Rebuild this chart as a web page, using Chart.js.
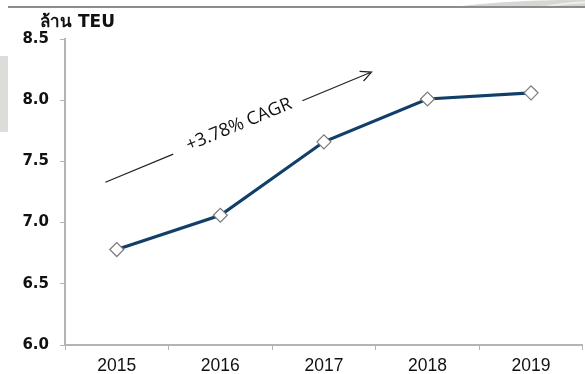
<!DOCTYPE html>
<html>
<head>
<meta charset="utf-8">
<script src="https://cdn.jsdelivr.net/npm/chart.js@4.4.1/dist/chart.umd.min.js"></script>
<style>
  html, body { margin: 0; padding: 0; background: #ffffff; overflow: hidden; }
  #wrap { position: relative; width: 585px; height: 374px; overflow: hidden; }
</style>
</head>
<body>
<div id="wrap"><canvas id="c" width="591" height="374"></canvas></div>
<script>
// Container throughput, million TEU
const years = ['2015', '2016', '2017', '2018', '2019'];
const throughput = [6.78, 7.06, 7.66, 8.01, 8.06];
const yTicks = [6.0, 6.5, 7.0, 7.5, 8.0, 8.5];
const unitLabel = 'ล้าน TEU';
const cagrLabel = '+3.78% CAGR';
// Trend arrow endpoints in data space: [category index, value]
const arrowFrom = [-0.11, 7.33];
const arrowTo = [2.46, 8.23];

const AXIS_GREY = '#b4b4b4';

const decor = {
  id: 'decor',
  beforeDraw(chart) {
    const ctx = chart.ctx;
    ctx.save();
    ctx.fillStyle = '#ffffff';
    ctx.fillRect(0, 0, chart.width, chart.height);
    // page header swoosh, top right
    ctx.fillStyle = '#d6d6d2';
    ctx.beginPath();
    ctx.moveTo(452, 7);
    ctx.quadraticCurveTo(500, 1, 560, 0);
    ctx.lineTo(591, 0);
    ctx.lineTo(591, 7);
    ctx.closePath();
    ctx.fill();
    ctx.fillStyle = '#eeeeec';
    ctx.beginPath();
    ctx.moveTo(540, 7);
    ctx.quadraticCurveTo(560, 2, 591, 1);
    ctx.lineTo(591, 3);
    ctx.quadraticCurveTo(565, 4, 548, 7);
    ctx.closePath();
    ctx.fill();
    // left page tab
    ctx.fillStyle = '#dcdcd8';
    ctx.fillRect(0, 56, 8, 76);
    // header rule
    ctx.strokeStyle = '#8c8c8c';
    ctx.lineWidth = 2;
    ctx.beginPath();
    ctx.moveTo(8, 7);
    ctx.lineTo(591, 7);
    ctx.stroke();
    ctx.restore();
  },
  afterDraw(chart) {
    const ctx = chart.ctx;
    const xs = chart.scales.x, ys = chart.scales.y;
    ctx.save();
    // unit label
    ctx.fillStyle = '#111111';
    ctx.font = 'bold 17px "DejaVu Sans", "Noto Sans", sans-serif';
    ctx.textBaseline = 'alphabetic';
    ctx.textAlign = 'left';
    ctx.fillText(unitLabel, 40, 27);

    // CAGR trend arrow
    const x0 = xs.getPixelForValue(arrowFrom[0]);
    const y0 = ys.getPixelForValue(arrowFrom[1]);
    const x1 = xs.getPixelForValue(arrowTo[0]);
    const y1 = ys.getPixelForValue(arrowTo[1]);
    const ang = Math.atan2(y1 - y0, x1 - x0);
    const gapA = 0.255, gapB = 0.74;
    ctx.strokeStyle = '#222222';
    ctx.lineWidth = 1.2;
    ctx.beginPath();
    ctx.moveTo(x0, y0);
    ctx.lineTo(x0 + (x1 - x0) * gapA, y0 + (y1 - y0) * gapA);
    ctx.moveTo(x0 + (x1 - x0) * gapB, y0 + (y1 - y0) * gapB);
    ctx.lineTo(x1, y1);
    // arrow head
    const h = 12;
    ctx.moveTo(x1 - h * Math.cos(ang - 0.45), y1 - h * Math.sin(ang - 0.45));
    ctx.lineTo(x1, y1);
    ctx.lineTo(x1 - h * Math.cos(ang + 0.45), y1 - h * Math.sin(ang + 0.45));
    ctx.stroke();

    // label along the arrow
    const mx = x0 + (x1 - x0) * 0.505;
    const my = y0 + (y1 - y0) * 0.505;
    ctx.translate(mx, my);
    ctx.rotate(ang);
    ctx.fillStyle = '#111111';
    ctx.font = '18px "Open Sans", "Noto Sans", sans-serif';
    ctx.textAlign = 'center';
    ctx.textBaseline = 'middle';
    ctx.fillText(cagrLabel, 0, -2);
    ctx.restore();
  }
};

new Chart(document.getElementById('c'), {
  type: 'line',
  data: {
    labels: years,
    datasets: [{
      data: throughput,
      borderColor: '#123f69',
      borderWidth: 3.2,
      tension: 0,
      pointStyle: 'rectRot',
      pointRadius: 7,
      pointHoverRadius: 7,
      pointBackgroundColor: '#ffffff',
      pointBorderColor: '#7a7a7a',
      pointBorderWidth: 1.2
    }]
  },
  options: {
    responsive: false,
    animation: false,
    events: [],
    layout: { padding: { top: 39, left: 0, right: 0, bottom: 0 } },
    plugins: { legend: { display: false }, tooltip: { enabled: false } },
    scales: {
      x: {
        type: 'category',
        offset: true,
        border: { color: AXIS_GREY, width: 2 },
        grid: {
          offset: true,
          drawOnChartArea: false,
          drawTicks: true,
          tickLength: 5,
          tickColor: AXIS_GREY,
          tickWidth: 1
        },
        ticks: {
          color: '#111111',
          font: { family: '"Liberation Sans", Arial, sans-serif', size: 17.5 },
          padding: 6,
          maxRotation: 0
        },
        afterFit(scale) { scale.height = 29; }
      },
      y: {
        min: 6.0,
        max: 8.5,
        afterBuildTicks(scale) { scale.ticks = yTicks.map(v => ({ value: v })); },
        border: { color: AXIS_GREY, width: 2 },
        grid: {
          drawOnChartArea: false,
          drawTicks: true,
          tickLength: 5,
          tickColor: AXIS_GREY,
          tickWidth: 1
        },
        ticks: {
          color: '#111111',
          font: { family: '"DejaVu Sans", Tahoma, sans-serif', size: 15, weight: 'bold' },
          padding: 11,
          callback: v => Number(v).toFixed(1)
        },
        afterFit(scale) { scale.width = 65; }
      }
    }
  },
  plugins: [decor]
});
</script>
</body>
</html>
